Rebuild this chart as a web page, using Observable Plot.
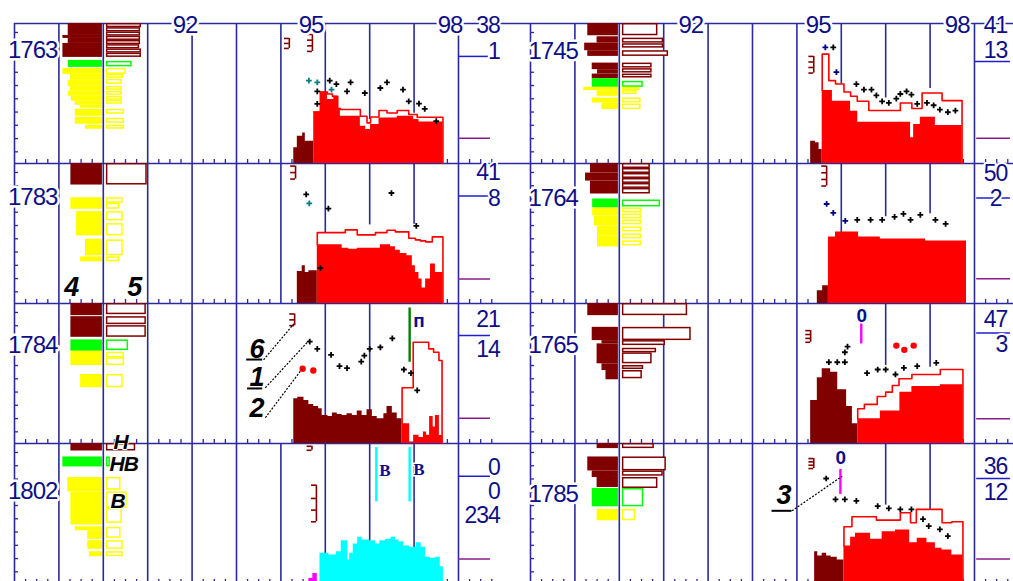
<!DOCTYPE html>
<html><head><meta charset="utf-8">
<script src="https://cdn.jsdelivr.net/npm/d3@7"></script>
<script src="https://cdn.jsdelivr.net/npm/@observablehq/plot@0.6"></script>
<style>
html,body{margin:0;padding:0;background:#fff;overflow:hidden;}
#chart svg{max-width:none !important;}
#chart svg text{letter-spacing:-1px;}
</style></head><body><div id="chart"></div>
<script>
// ---------- panels ----------
const years = ["1763","1783","1784","1802","1745","1764","1765","1785"];
const panelCol = [0,0,0,0,1,1,1,1];
const panelRow = [0,1,2,3,0,1,2,3];
const yearLabelX = [88.41,88.41,88.41,88.41,88.51,88.51,88.51,88.51];
const yearLabelH = [113.4,106.3,98.2,92.1,112.4,105.8,98.2,89.6];

const topLabels = ["92","95","98"];
const topLabelXLeft = [91.84,94.68,97.81];
const topLabelXRight = [91.61,94.48,97.61];
const topLabelH = 138.4;

const gridUnits = [88,89,90,91,92,93,94,95,96,97,98];
// where lines 94..97 stop (0 = full height, null = not drawn)
const gridStops = [[0,0,44.1,50.4],[0,71.1,78.8,79.5],[null,0,0,null],[0,0,0,0],
                   [0,79.7,65.7,75.1],[0,71,87,90],[0,null,78.2,76.5],[0,null,78.6,74.3]];
const bottomTicks = [88.25,88.5,88.75,89.25,89.5,89.75,90.25,90.5,90.75,91.25,91.5,91.75,92.25,92.5,92.75,93.25,93.5,93.75,94.25,94.5,94.75,95.25,95.5,95.75,96.25,96.5,96.75,97.25,97.5,97.75,98.25,98.5,98.75];
const leftTicks = [131.4,118.1,104.8,91.5,78.2,64.9,51.6,38.3,25.0,11.7];

// right-hand numbers [panel, text, h, x?]
const sideNumbers = [
 [0,"38",138.4],[0,"1",111.9],
 [1,"41",130.8],[1,"8",104.8],
 [2,"21",124.2],[2,"14",94.2],
 [3,"0",116.1],[3,"0",91.9],[3,"234",67.8],
 [4,"41",138.4],[4,"13",113.4],
 [5,"50",130.3],[5,"2",105.3,98.61],
 [6,"47",124.7],[6,"3",98.7],
 [7,"36",116.8],[7,"12",91.3]
];
const sideNumberX = [98.93,98.74];
const sideLines = [[0,107.4,98,98.68],[1,107.8,98,98.72],[2,108.2,98,98.72],[3,107.6,98,98.72],
                   [4,102.4,98,98.81],[5,105.8,98.05,98.81],[6,110.9,98.05,98.81],[7,105.3,98.05,98.81]];
const purpleH = [25.4,24.5,25.2,24.6,25.4,24.8,24.9,24.6];
const purpleX = [[98,98.72],[98.05,98.81]];

// ---------- pyramids: [top, bottom, edge, class] ----------
const fill1763 = [[140.4,128.4,89.21,"m"],[128.4,125.4,89.09,"m"],[125.4,120.4,89.21,"m"],[120.4,106.4,89.09,"m"],
 [103.4,96.4,89.21,"g"],
 [95.4,89.4,89.09,"y"],[89.4,83.4,89.26,"y"],[83.4,77.4,89.21,"y"],[77.4,72.4,89.26,"y"],[72.4,67.4,89.21,"y"],[67.4,62.4,89.28,"y"],[62.4,58.4,89.37,"y"],[58.4,55.4,89.49,"y"],[54.4,47.4,89.37,"y"],[46.4,39.4,89.37,"y"],[38.4,34.4,89.60,"y"]];
const box1763 = [[140.4,136.2,90.86,"m"],[136.2,131.9,90.84,"m"],[131.9,127.7,90.84,"m"],[127.7,123.4,90.84,"m"],[123.4,119.2,90.84,"m"],[119.2,114.9,90.82,"m"],[114.9,110.7,90.86,"m"],[110.7,106.4,90.86,"m"],
 [102.4,96.9,90.65,"g"],
 [95.4,89.4,90.52,"y"],[89.4,85.4,90.46,"y"],[84.4,79.4,90.43,"y"],[77.4,73.4,90.43,"y"],[72.4,68.4,90.43,"y"],[67.4,63.4,90.43,"y"],[63.4,59.4,90.43,"y"],[54.4,49.4,90.48,"y"],[45.4,40.4,90.48,"y"],[38.4,34.4,90.48,"y"]];
const fill1783 = [[140.4,118.8,89.27,"m"],[106.1,94.5,89.27,"y"],[92.1,67.8,89.40,"y"],[64.5,47.8,89.60,"y"],[46.8,41.8,89.49,"y"]];
const box1783 = [[140.4,118.8,90.99,"m"],[106.1,100.5,90.45,"y"],[100.5,94.5,90.37,"y"],[92.1,82.8,90.45,"y"],[80.1,67.8,90.45,"y"],[63.8,47.8,90.45,"y"],[46.8,41.8,90.37,"y"]];
const fill1784 = [[140.4,128.2,89.27,"m"],[127.2,106.5,89.27,"m"],[103.9,92.5,89.27,"g"],[92.5,78.2,89.27,"y"],[69.2,55.9,89.49,"y"]];
const box1784 = [[140.4,129.2,90.97,"m"],[127.2,119.2,90.97,"m"],[118.2,106.5,90.97,"m"],[103.9,93.2,90.57,"g"],[91.5,85.9,90.48,"y"],[85.9,78.2,90.48,"y"],[69.2,55.9,90.45,"y"]];
const fill1802 = [[140.4,132.9,89.27,"m"],[126.9,116.9,89.09,"g"],[106.3,91.9,89.20,"y"],[91.9,58.6,89.27,"y"],[56.9,52.9,89.37,"y"],[52.9,44.3,89.65,"y"],[42.9,34.3,89.65,"y"],[31.9,26.9,89.69,"y"]];
const box1802 = [[140.4,132.9,90.73,"m"],[126.9,116.9,90.16,"g"],[106.3,93.6,90.40,"y"],[91.9,75.3,90.54,"y"],[75.3,60.3,90.43,"y"],[56.3,45.3,90.40,"y"],[42.9,34.3,90.45,"y"],[31.9,26.9,90.45,"y"]];
const fill1745 = [[140.4,128.1,89.29,"m"],[127.1,120.7,89.50,"m"],[120.7,113.1,89.22,"m"],[113.1,107.4,89.29,"m"],[100.7,94.1,89.39,"m"],[94.1,89.7,89.51,"m"],[89.7,85.1,89.39,"m"],[85.1,76.4,89.39,"g"],[76.4,73.1,89.20,"y"],[73.1,67.4,89.50,"y"],[65.7,60.7,89.39,"y"],[60.7,54.1,89.61,"y"]];
const box1745 = [[140.4,128.1,90.87,"m"],[125.7,120.7,91.0,"m"],[120.1,115.7,91.0,"m"],[113.1,107.4,91.11,"m"],[100.7,95.7,90.74,"m"],[95.1,90.7,90.74,"m"],[89.7,85.7,90.74,"m"],[82.4,76.4,90.54,"g"],[76.4,73.1,90.46,"y"],[73.1,69.1,90.40,"y"],[65.7,60.7,90.49,"y"],[59.7,54.1,90.49,"y"]];
const fill1764 = [[140.4,130.8,89.35,"m"],[130.8,122.8,89.24,"m"],[122.8,109.8,89.35,"m"],[104.8,95.8,89.40,"g"],[95.8,87.8,89.40,"y"],[87.8,77.8,89.44,"y"],[77.8,67.8,89.51,"y"],[67.8,56.8,89.51,"y"]];
const box1764 = [[140.4,135.4,90.70,"m"],[135.4,130.4,90.70,"m"],[130.4,125.4,90.70,"m"],[125.4,120.4,90.70,"m"],[120.4,115.4,90.70,"m"],[115.4,109.8,90.70,"m"],[103.8,96.8,90.93,"g"],[95.8,90.8,90.50,"y"],[89.8,84.8,90.50,"y"],[83.8,78.8,90.50,"y"],[76.8,71.8,90.50,"y"],[69.8,64.8,90.50,"y"],[62.8,57.8,90.50,"y"]];
const fill1765 = [[140.4,128.2,89.29,"m"],[116.5,103.2,89.39,"m"],[103.2,99.9,89.61,"m"],[99.9,79.9,89.50,"m"],[79.9,73.2,89.61,"m"],[73.2,63.9,89.70,"m"]];
const box1765 = [[140.4,128.2,91.54,"m"],[116.5,103.2,91.62,"m"],[103.2,98.2,91.04,"m"],[95.5,90.9,90.84,"m"],[90.9,79.9,90.74,"m"],[78.2,74.2,90.55,"m"],[73.2,64.9,90.52,"m"]];
const fill1785 = [[140.4,135.3,89.50,"m"],[126.9,112.9,89.29,"m"],[112.9,106.3,89.39,"m"],[106.3,96.3,89.50,"m"],[95.3,76.9,89.39,"g"],[74.3,62.9,89.50,"y"]];
const box1785 = [[140.4,135.3,90.79,"m"],[126.9,112.9,91.06,"m"],[112.9,107.6,90.99,"m"],[106.3,95.3,90.87,"m"],[95.3,76.9,90.55,"g"],[74.3,62.9,90.37,"y"]];

// ---------- histograms: [x, h] step points ----------
const maroon1763 = [[94.29,15.7],[94.37,27.4],[94.49,30.7],[94.55,22.4],[94.74,0]];
const red1763 = [[94.74,51.7],[94.89,71.7],[95.05,64.1],[95.19,67.4],[95.28,55.1],[95.34,47.4],[95.79,37.4],[95.91,34.1],[96.02,39.1],[96.21,45.7],[96.62,47.4],[96.99,44.1],[97.11,41.7],[97.65,0]];
const edge1763 = [[94.74,51.7],[94.89,71.7],[95.05,69.7],[95.16,67.4],[95.28,55.1],[95.34,54.1],[95.79,47.4],[95.94,40.7],[96.02,46.7],[96.21,53.1],[96.39,50.7],[96.62,53.1],[96.88,49.1],[97.07,46.4],[97.65,0]];
const maroon1783 = [[94.37,32.1],[94.48,37.8],[94.55,31.1],[94.63,32.8],[94.82,0]];
const red1783 = [[94.82,58.8],[95.38,55.5],[95.53,54.5],[95.72,55.5],[96.24,58.8],[96.47,56.8],[96.58,53.5],[96.69,50.1],[96.84,47.8],[96.96,37.8],[97.03,31.1],[97.11,24.5],[97.18,15.5],[97.26,24.5],[97.37,39.5],[97.48,31.1],[97.65,0]];
const edge1783 = [[94.82,58.8],[94.82,71.1],[95.45,73.8],[95.72,68.8],[96.13,71.1],[96.39,73.5],[96.58,71.8],[96.88,65.5],[97.03,63.8],[97.14,62.8],[97.26,61.8],[97.41,66.8],[97.65,0]];
const maroon1784 = [[94.29,44.9],[94.38,46.5],[94.52,43.2],[94.63,39.2],[94.74,37.2],[94.85,34.9],[94.93,28.2],[95.06,27.2],[95.16,30.5],[95.27,29.2],[95.38,28.2],[95.49,29.9],[95.61,28.2],[95.72,32.5],[95.83,28.2],[95.94,33.9],[96.06,27.2],[96.17,24.9],[96.32,29.9],[96.39,37.2],[96.51,30.5],[96.62,24.9],[96.73,0]];
const red1784 = [[96.73,19.9],[96.90,1.5],[96.99,8.2],[97.11,5.9],[97.21,11.5],[97.28,8.2],[97.35,27.2],[97.43,16.5],[97.48,28.2],[97.57,8],[97.65,0]];
const edge1784 = [[96.73,19.9],[96.73,55.9],[96.98,101.5],[97.33,94.9],[97.44,91.5],[97.56,83.2],[97.63,0]];
const cyan1802 = [[94.88,30.3],[95.08,28.6],[95.25,31.9],[95.36,42.9],[95.51,23.6],[95.55,30.3],[95.63,39.6],[95.73,46.3],[95.83,43.6],[96.00,42.9],[96.13,39.6],[96.23,42.9],[96.36,44.3],[96.48,46.3],[96.58,43.6],[96.66,41.9],[96.77,37.6],[96.90,36.3],[97.05,40.9],[97.16,36.3],[97.26,26.3],[97.37,25.3],[97.48,26.3],[97.59,16.9],[97.66,0]];
const magenta1802 = [[94.63,5],[94.72,10],[94.82,0]];
const maroon1745 = [[94.31,22.4],[94.42,20.7],[94.50,14.1],[94.57,0]];
const red1745 = [[94.57,73.1],[94.80,62.4],[95.21,52.4],[95.37,41.4],[96.56,25.7],[96.63,39.1],[96.78,46.4],[97.12,38.1],[97.72,0]];
const edge1745 = [[94.57,73.1],[94.57,109.7],[94.72,83.1],[94.87,79.7],[95.06,71.7],[95.21,67.4],[95.36,62.4],[95.62,53.1],[96.33,60.7],[96.59,55.1],[96.82,70.7],[97.27,63.1],[97.72,0]];
const maroon1764 = [[94.46,12.8],[94.58,17.8],[94.71,0]];
const red1764 = [[94.71,66.8],[94.87,71.8],[95.39,66.8],[95.88,64.8],[96.90,62.8],[97.82,0]];
const maroon1765 = [[94.31,43.2],[94.46,65.9],[94.57,74.9],[94.76,71.5],[94.92,53.9],[95.12,37.2],[95.25,19.9],[95.37,0]];
const red1765 = [[95.37,24.9],[95.88,32.5],[96.32,51.5],[96.59,57.2],[97.23,58.9],[97.74,0]];
const edge1765 = [[95.37,24.9],[95.37,34.9],[95.52,39.2],[95.81,47.2],[96.00,51.5],[96.15,58.2],[96.30,64.9],[96.59,69.2],[97.23,74.2],[97.74,0]];
const maroon1785 = [[94.40,31.9],[94.47,27.6],[94.57,30.3],[94.67,27.6],[94.77,26.3],[94.91,23.6],[95.06,0]];
const red1785 = [[95.06,37.6],[95.21,46.3],[95.32,50.3],[95.66,44.3],[95.92,51.9],[96.22,53.6],[96.54,40.9],[96.71,45.3],[96.93,40.9],[97.12,35.3],[97.27,33.6],[97.49,28.6],[97.74,0]];
const edge1785 = [[95.06,37.6],[95.06,56.9],[95.24,66.9],[95.79,63.6],[96.33,70.9],[96.56,60.9],[96.69,74.3],[97.27,60.9],[97.49,61.9],[97.74,0]];

// ---------- crosses [x, h, class] ----------
const cross1763 = [[94.63,83.1,"t"],[94.82,81.4,"t"],[95.10,83.1,"k"],[95.25,79.7,"k"],[95.57,81.4,"k"],[94.82,72.4,"k"],[95.14,74.1,"t"],[95.49,72.4,"k"],[95.89,70.7,"k"],[96.24,75.7,"k"],[96.39,81.4,"k"],[96.75,74.1,"k"],[94.82,59.7,"k"],[96.88,62.4,"k"],[97.11,60.1,"k"],[97.24,54.7,"k"],[97.50,42.4,"k"]];
const cross1783 = [[94.57,109.5,"k"],[94.64,100.5,"t"],[95.07,95.1,"k"],[96.49,110.8,"k"],[97.05,77.8,"k"],[94.89,35.5,"k"]];
const cross1784 = [[94.65,102.2,"k"],[94.82,94.9,"k"],[95.13,88.9,"k"],[95.32,77.5,"k"],[95.49,75.5,"k"],[95.81,82.2,"k"],[95.88,88.2,"k"],[96.00,94.9,"k"],[96.24,96.5,"k"],[96.51,105.5,"k"],[96.77,74.2,"k"],[96.93,70.5,"k"],[97.07,53.2,"k"]];
const cross1802 = [];
const cross1745 = [[94.64,116.4,"n"],[94.82,116.4,"k"],[94.89,91.7,"n"],[95.34,79.7,"k"],[95.51,74.1,"k"],[95.68,74.1,"k"],[95.79,68.4,"k"],[95.92,62.4,"k"],[96.07,60.7,"k"],[96.24,65.1,"k"],[96.33,69.7,"k"],[96.47,72.4,"k"],[96.58,69.1,"k"],[96.71,59.7,"k"],[96.93,60.7,"k"],[97.08,58.4,"k"],[97.22,54.1,"k"],[97.40,51.4,"k"],[97.57,53.1,"k"]];
const cross1764 = [[94.67,99.8,"n"],[94.82,90.8,"n"],[95.09,82.8,"n"],[95.36,83.8,"k"],[95.66,83.8,"k"],[95.92,83.8,"k"],[96.20,86.8,"k"],[96.40,89.8,"k"],[96.56,83.8,"k"],[96.78,88.8,"k"],[97.12,83.8,"k"],[97.35,79.8,"k"]];
const cross1765 = [[94.72,81.5,"k"],[94.91,81.5,"k"],[95.08,81.5,"k"],[95.08,91.5,"k"],[95.14,97.2,"k"],[95.58,70.5,"k"],[95.82,74.2,"k"],[96.00,74.2,"k"],[96.22,69.2,"k"],[96.41,75.9,"k"],[96.71,77.5,"k"],[97.14,80.9,"k"]];
const cross1785 = [[94.66,105.3,"k"],[94.87,84.3,"k"],[95.08,84.3,"k"],[95.34,82.9,"k"],[95.82,77.6,"k"],[96.07,75.3,"k"],[96.33,74.3,"k"],[96.58,74.3,"k"],[96.84,64.6,"k"],[96.97,57.6,"k"],[97.22,54.3,"k"],[97.40,47.6,"k"]];

const redDots = [[2,94.49,74.9],[2,94.73,73.2],[6,96.24,98.2],[6,96.42,93.9],[6,96.63,98.2]];
// phase bars [panel, x, low, high, class]
const phaseBars = [[2,96.90,81.5,135.9,"G"],[3,96.15,81.9,136.3,"c"],[3,96.90,81.9,136.3,"c"],[6,95.45,99.9,121.5,"p"],[7,94.98,89.3,114.3,"p"]];
const phaseLetters = [[3,"B",96.33,113.6],[3,"B",97.10,113.9]];
const phaseSans = [[2,"п",97.10,123.2],[6,"0",95.45,128.2],[7,"0",94.98,125.9]];
// comb markers [panel, x, tick heights]
const combs = [[0,94.19,[125.4,120.4,115.4]],[0,94.71,[129.4,123.7,118.0,112.4]],[1,94.33,[137.8,131.3,124.8]],
 [2,94.31,[129.9,124.0,118.2]],[3,94.70,[137.6,133.6]],[3,94.80,[98.6,85.3,73.6,61.9]],
 [4,94.38,[107.4,101.8,96.3,90.7]],[5,94.67,[137.8,131.1,124.4,117.8]],[6,94.31,[113.2,109.3,105.4,101.5]],[7,94.38,[125.3,122.0,118.6,115.3]]];

// annotations
const annotDigits = [[1,"4",89.28,15.8],[1,"5",90.70,15.8],[2,"6",93.45,94.2],[2,"1",93.45,66.7],[2,"2",93.45,35.2],[7,"3",93.70,88.6]];
const annotLetters = [[3,"H",90.39,141.6],[3,"HB",90.46,119.4],[3,"B",90.32,82.8]];
const leaders = [[2,93.61,83.9,94.29,119.9],[2,93.65,55.9,94.63,103.2],[2,93.65,25.9,94.48,74.9],[7,93.89,72.9,95.02,107.6]];
const underlines = [[2,93.23,93.59,84.2],[2,93.25,93.59,55.2],[7,93.44,93.89,72.9]];

// ---------- assemble ----------
const fills = [fill1763,fill1783,fill1784,fill1802,fill1745,fill1764,fill1765,fill1785];
const boxes = [box1763,box1783,box1784,box1802,box1745,box1764,box1765,box1785];
const maroons = [maroon1763,maroon1783,maroon1784,null,maroon1745,maroon1764,maroon1765,maroon1785];
const reds = [red1763,red1783,red1784,null,red1745,red1764,red1765,red1785];
const edges = [edge1763,edge1783,edge1784,null,edge1745,null,edge1765,edge1785];
const cyans = [null,null,null,cyan1802,null,null,null,null];
const magentas = [null,null,null,magenta1802,null,null,null,null];
const crosses = [cross1763,cross1783,cross1784,cross1802,cross1745,cross1764,cross1765,cross1785];

const fxy = i => ({fx: panelCol[i], fy: panelRow[i]});
function flat(list, fn) {
  const out = [];
  list.forEach((s, i) => { if (s) s.forEach(d => out.push(Object.assign(fn(d), fxy(i)))); });
  return out;
}
const bar = d => ({t: d[0], b: d[1], u: d[2], c: d[3]});
const pt = d => ({u: d[0], h: d[1]});
const lab = d => Object.assign({t: d[1], u: d[2], h: d[3]}, fxy(d[0]));

const gridData = [];
years.forEach((y, i) => gridUnits.forEach(u => {
  const s = (u >= 94 && u <= 97) ? gridStops[i][u - 94] : 0;
  if (s !== null) gridData.push(Object.assign({u, s}, fxy(i)));
}));

const NAVY = "#2a2a9e", NAVYT = "#0e0e88", MAROON = "#800000";
const FONT = "Liberation Sans, Arial, sans-serif";
const F = {fx: "fx", fy: "fy"};

const yearData = years.map((t, i) => Object.assign({t, u: yearLabelX[i], h: yearLabelH[i]}, fxy(i)));
const topData = [];
topLabels.forEach((t, k) => {
  topData.push({t, u: topLabelXLeft[k], h: topLabelH, fx: 0, fy: 0});
  topData.push({t, u: topLabelXRight[k], h: topLabelH, fx: 1, fy: 0});
});
const numData = sideNumbers.map(d => Object.assign({t: d[1], h: d[2], u: d[3] ?? sideNumberX[panelCol[d[0]]]}, fxy(d[0])));
const numLineData = sideLines.map(d => Object.assign({h: d[1], x1: d[2], x2: d[3]}, fxy(d[0])));
const purpleData = purpleH.map((h, i) => Object.assign({h, x1: purpleX[panelCol[i]][0], x2: purpleX[panelCol[i]][1]}, fxy(i)));
const combV = combs.map(d => Object.assign({u: d[1], lo: Math.min(...d[2]), hi: Math.max(...d[2])}, fxy(d[0])));
const combT = [];
combs.forEach(d => d[2].forEach(h => combT.push(Object.assign({u: d[1], h}, fxy(d[0])))));

const marks = [
  Plot.ruleX(gridData, {x: "u", y1: "s", y2: 140.4, ...F, stroke: NAVY, strokeWidth: 1.6}),
  Plot.ruleY([140.4], {y: d => d, x1: 88, x2: 99.622, stroke: NAVY, strokeWidth: 1.6}),
  Plot.ruleX(bottomTicks, {x: d => d, y1: 0, y2: 4, stroke: NAVY, strokeWidth: 1.3}),
  Plot.ruleY(leftTicks, {y: d => d, x1: 88, x2: 88.09, stroke: NAVY, strokeWidth: 1.3}),
  Plot.ruleY(numLineData, {y: "h", x1: "x1", x2: "x2", ...F, stroke: "#1f1fd0", strokeWidth: 1.5}),
  Plot.ruleY(purpleData, {y: "h", x1: "x1", x2: "x2", ...F, stroke: "#8a1a8a", strokeWidth: 1.5}),
  Plot.rect(flat(fills, bar), {x1: "u", x2: 89.98, y1: "b", y2: "t", ...F, fill: "c"}),
  Plot.rect(flat(boxes, bar), {x1: 90.07, x2: "u", y1: "b", y2: "t", ...F, fill: "white", stroke: "c", strokeWidth: 1.5, inset: 0.75}),
  Plot.areaY(flat(maroons, pt), {x: "u", y: "h", ...F, curve: "step-after", fill: MAROON}),
  Plot.areaY(flat(reds, pt), {x: "u", y: "h", ...F, curve: "step-after", fill: "#ff0000"}),
  Plot.areaY(flat(cyans, pt), {x: "u", y: "h", ...F, curve: "step-after", fill: "#00ffff"}),
  Plot.areaY(flat(magentas, pt), {x: "u", y: "h", ...F, curve: "step-after", fill: "#ff00ff"}),
  Plot.line(flat(edges, pt), {x: "u", y: "h", ...F, curve: "step-after", stroke: "#ff0000", strokeWidth: 1.6}),
  Plot.ruleX(combV, {x: "u", y1: "lo", y2: "hi", ...F, stroke: MAROON, strokeWidth: 1.6}),
  Plot.ruleY(combT, {y: "h", x1: d => d.u - 0.11, x2: "u", ...F, stroke: MAROON, strokeWidth: 1.6}),
  Plot.ruleX(phaseBars.map(d => Object.assign({u: d[1], lo: d[2], hi: d[3], c: d[4]}, fxy(d[0]))), {x: "u", y1: "lo", y2: "hi", ...F, stroke: "c", strokeWidth: 2.4}),
  Plot.dot(flat(crosses, d => ({u: d[0], h: d[1], c: d[2]})), {x: "u", y: "h", ...F, symbol: "plus", r: 2, stroke: "c", strokeWidth: 1.8}),
  Plot.dot(redDots.map(d => Object.assign({u: d[1], h: d[2]}, fxy(d[0]))), {x: "u", y: "h", ...F, r: 3.2, fill: "#ff0000"}),
  Plot.link(leaders.map(d => Object.assign({x1: d[1], y1: d[2], x2: d[3], y2: d[4]}, fxy(d[0]))), {x1: "x1", y1: "y1", x2: "x2", y2: "y2", ...F, stroke: "black", strokeWidth: 1.2, strokeDasharray: "2,1.5"}),
  Plot.ruleY(underlines.map(d => Object.assign({x1: d[1], x2: d[2], h: d[3]}, fxy(d[0]))), {y: "h", x1: "x1", x2: "x2", ...F, stroke: "black", strokeWidth: 2}),
  Plot.text(yearData, {x: "u", y: "h", text: "t", ...F, fontSize: 24, fontFamily: FONT, fill: NAVYT, stroke: "white", strokeWidth: 5, paintOrder: "stroke"}),
  Plot.text(topData, {x: "u", y: "h", text: "t", ...F, fontSize: 24, fontFamily: FONT, fill: NAVYT, stroke: "white", strokeWidth: 5, paintOrder: "stroke"}),
  Plot.text(numData, {x: "u", y: "h", text: "t", ...F, textAnchor: "end", fontSize: 23, fontFamily: FONT, fill: NAVYT, stroke: "white", strokeWidth: 4, paintOrder: "stroke"}),
  Plot.text(phaseLetters.map(lab), {x: "u", y: "h", text: "t", ...F, fontSize: 17, fontWeight: "bold", fontFamily: "Liberation Serif, serif", fill: NAVYT, stroke: "white", strokeWidth: 3, paintOrder: "stroke"}),
  Plot.text(phaseSans.map(lab), {x: "u", y: "h", text: "t", ...F, fontSize: 19, fontWeight: "bold", fontFamily: FONT, fill: NAVYT, stroke: "white", strokeWidth: 3, paintOrder: "stroke"}),
  Plot.text(annotDigits.map(lab), {x: "u", y: "h", text: "t", ...F, fontSize: 27, fontWeight: "bold", fontStyle: "italic", fontFamily: FONT, fill: "black"}),
  Plot.text(annotLetters.map(lab), {x: "u", y: "h", text: "t", ...F, fontSize: 21, fontWeight: "bold", fontStyle: "italic", fontFamily: FONT, fill: "black", stroke: "white", strokeWidth: 2, paintOrder: "stroke"})
];

const chart = Plot.plot({
  width: 1046, height: 590,
  marginLeft: 14, marginRight: 0, marginTop: 22, marginBottom: 6.4,
  style: {maxWidth: "none", overflow: "visible", background: "white"},
  x: {domain: [88, 99.622], axis: null},
  y: {domain: [0, 140.4], axis: null},
  fx: {domain: [0, 1], axis: null, padding: 0},
  fy: {domain: [0, 1, 2, 3], axis: null, padding: 0},
  color: {domain: ["m","g","y","k","t","n","G","c","p"], range: ["#800000","#00ff00","#ffff00","#000000","#008080","#000080","#008000","#00ffff","#ff00ff"]},
  marks
});
document.getElementById("chart").appendChild(chart);
</script></body></html>
